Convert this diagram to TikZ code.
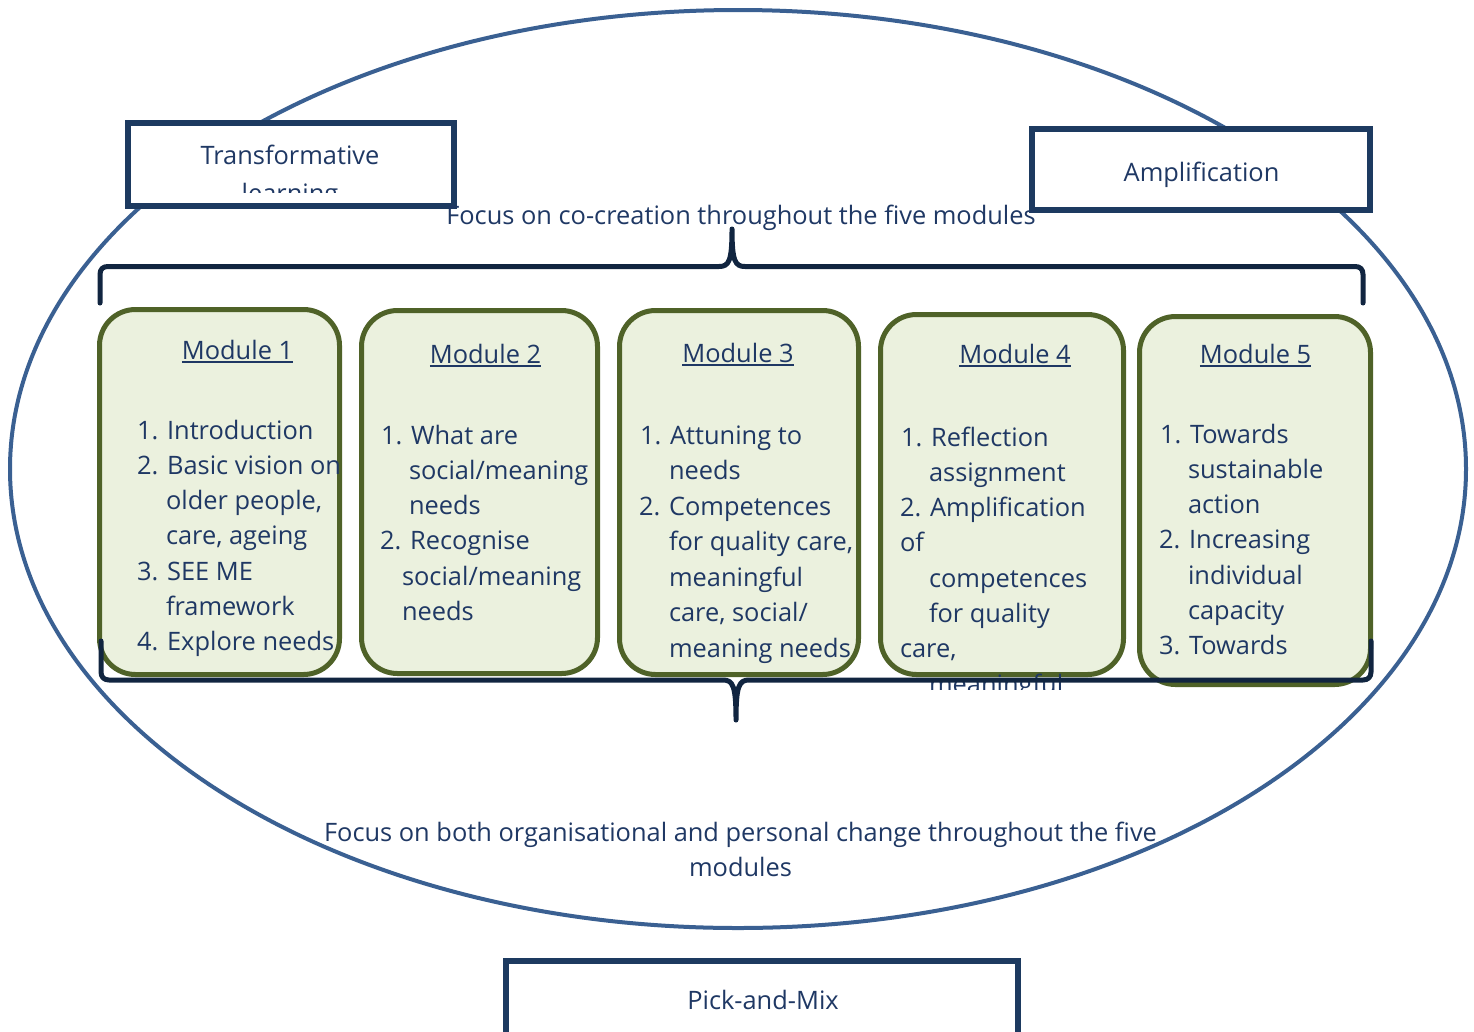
\documentclass[tikz,border=0pt]{standalone}
\usepackage{fontspec}
\setmainfont{Open Sans}
\definecolor{navytext}{RGB}{31,56,100}
\definecolor{boxblue}{RGB}{29,58,96}
\definecolor{bracecol}{RGB}{17,37,64}
\definecolor{ellcol}{RGB}{58,96,146}
\definecolor{modolive}{RGB}{79,98,40}
\definecolor{modfill}{RGB}{235,241,222}
\newcommand\mfont{\fontsize{25.4}{35.3}\selectfont}
\tikzset{
  txt/.style={inner sep=0pt, outer sep=0pt, text=navytext, font=\mfont},
  item/.style={txt, anchor=base west},
  ttl/.style={txt, anchor=base},
  modbox/.style={draw=modolive, fill=modfill, line width=5pt, rounded corners=36pt, inner sep=0pt, outer sep=0pt},
  framebox/.style={draw=boxblue, fill=white, line width=6pt, inner sep=0pt, outer sep=0pt},
  bracepath/.style={draw=bracecol, line width=5pt, line cap=round, line join=round},
  uline/.style={draw=navytext, line width=1.8pt},
}
\begin{document}
\begin{tikzpicture}[x=1pt,y=-1pt]
\useasboundingbox (0,0) rectangle (1474,1031);
% big oval
\draw[ellcol, line width=4pt] (738,469) ellipse [x radius=728, y radius=459];
% frames
\node[framebox, minimum width=326pt, minimum height=83pt] (tl) at (290.5,164.5) {};
\node[framebox, minimum width=338pt, minimum height=81pt] (amp) at (1201,169.5) {};
\node[framebox, minimum width=512pt, minimum height=139pt] (pm) at (762,1030.5) {};
\begin{scope}
  \clip (130,120) rectangle (452,192);
  \node[ttl] (tlt1) at (290,164) {Transformative};
  \node[ttl] (tlt2) at (290,202) {learning};
\end{scope}
\node[ttl] (ampt) at (1201.5,181) {Amplification};
\node[ttl] (pmt) at (763,1009) {Pick-and-Mix};
% focus texts
\node[ttl] (ftop) at (741,224) {Focus on co-creation throughout the five modules};
\node[ttl] (fbot1) at (740.5,841) {Focus on both organisational and personal change throughout the five};
\node[ttl] (fbot2) at (740.5,876) {modules};
% modules
\node[modbox, minimum width=240pt, minimum height=365pt] (m1) at (219.5,492) {};
\node[modbox, minimum width=236pt, minimum height=363pt] (m2) at (479.5,492) {};
\node[modbox, minimum width=239pt, minimum height=364pt] (m3) at (739,492.5) {};
\node[modbox, minimum width=243pt, minimum height=360pt] (m4) at (1002,494.5) {};
\node[modbox, minimum width=231pt, minimum height=368pt] (m5) at (1255,500.5) {};
% titles
\node[ttl] (t1) at (237.5,359) {Module 1};
\node[ttl] (t2) at (485.5,363) {Module 2};
\node[ttl] (t3) at (738,362) {Module 3};
\node[ttl] (t4) at (1015,363) {Module 4};
\node[ttl] (t5) at (1255.5,363) {Module 5};
\foreach \t in {t1,t2,t3,t4,t5}{
  \draw[uline] ([yshift=-3pt]\t.base west) -- ([yshift=-3pt]\t.base east);
}
% module 1
\node[item] (a1) at (137,439) {1. Introduction};
\node[item] (a2) at (137,474.3) {2. Basic vision on};
\node[item] (a3) at (166,509.6) {older people,};
\node[item] (a4) at (166,544.9) {care, ageing};
\node[item] (a5) at (137,580.2) {3. SEE ME};
\node[item] (a6) at (166,615.5) {framework};
\node[item] (a7) at (137,650.8) {4. Explore needs};
% module 2
\node[item] (b1) at (381,444) {1. What are};
\node[item] (b2) at (409,479.3) {social/meaning};
\node[item] (b3) at (409,514.6) {needs};
\node[item] (b4) at (380,549.9) {2. Recognise};
\node[item] (b5) at (402,585.2) {social/meaning};
\node[item] (b6) at (402,620.5) {needs};
% module 3
\node[item] (c1) at (640,444) {1. Attuning to};
\node[item] (c2) at (669,479.5) {needs};
\node[item] (c3) at (639,515) {2. Competences};
\node[item] (c4) at (669,550.5) {for quality care,};
\node[item] (c5) at (669,586) {meaningful};
\node[item] (c6) at (669,621.5) {care, social/};
\node[item] (c7) at (669,657) {meaning needs};
% module 4
\node[item] (d1) at (901,446) {1. Reflection};
\node[item] (d2) at (929,481.3) {assignment};
\node[item] (d3) at (900,516.6) {2. Amplification};
\node[item] (d4) at (900,551.9) {of};
\node[item] (d5) at (929,587.2) {competences};
\node[item] (d6) at (929,622.5) {for quality};
\node[item] (d7) at (900,657.8) {care,};
\begin{scope}
  \clip (870,600) rectangle (1130,689);
  \node[item] (d8) at (929,693.1) {meaningful};
\end{scope}
% module 5
\node[item] (e1) at (1160,443) {1. Towards};
\node[item] (e2) at (1188,478.3) {sustainable};
\node[item] (e3) at (1188,513.6) {action};
\node[item] (e4) at (1159,548.9) {2. Increasing};
\node[item] (e5) at (1188,584.2) {individual};
\node[item] (e6) at (1188,619.5) {capacity};
\node[item] (e7) at (1159,654.8) {3. Towards};
% braces
\draw[bracepath] (100,303) -- (100,274.5) .. controls (100,269) and (103,266.5) .. (108,266.5)
  -- (719,266.5) .. controls (729,266.5) and (732,261) .. (732,229)
  .. controls (732,261) and (735,266.5) .. (745,266.5)
  -- (1355,266.5) .. controls (1360,266.5) and (1363,269) .. (1363,274.5) -- (1363,303);
\draw[bracepath] (101,641) -- (101,672) .. controls (101,677) and (104,680) .. (109,680)
  -- (723,680) .. controls (733,680) and (736,686) .. (736,720)
  .. controls (736,686) and (739,680) .. (749,680)
  -- (1363,680) .. controls (1368,680) and (1371,677) .. (1371,672) -- (1371,641);
\end{tikzpicture}
\end{document}
